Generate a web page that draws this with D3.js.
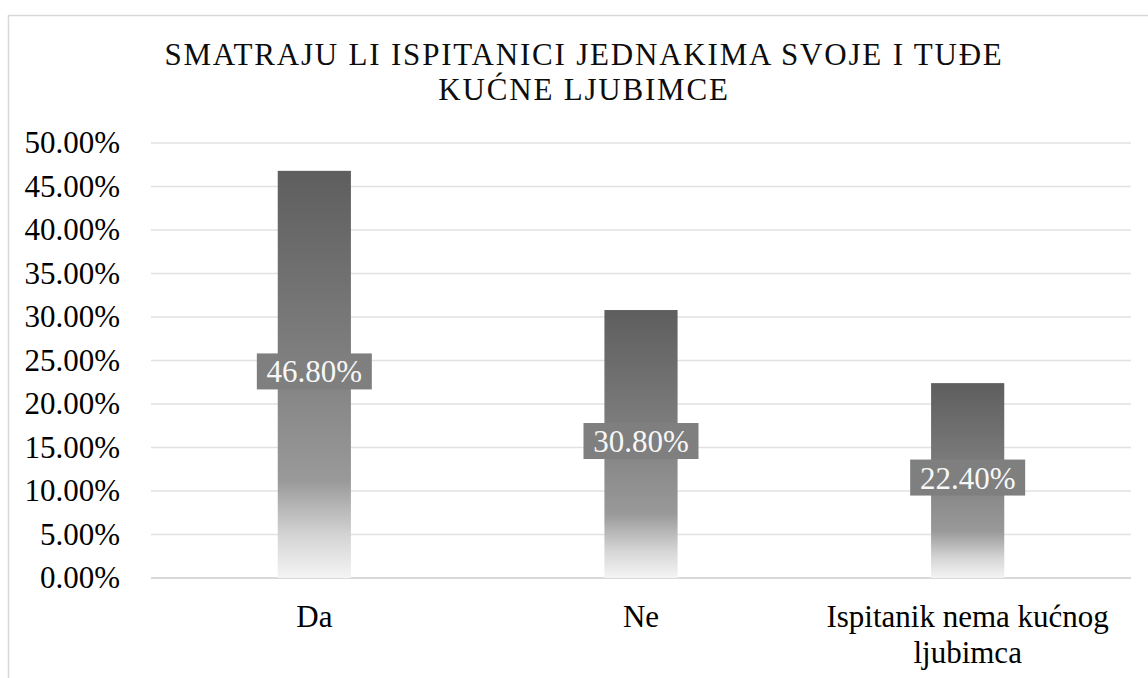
<!DOCTYPE html>
<html>
<head>
<meta charset="utf-8">
<script src="https://cdn.jsdelivr.net/npm/d3@7"></script>
</head>
<body>
<script>
// data
const categories = ['Da', 'Ne', 'Ispitanik nema kućnog ljubimca'];
const categoryLines = [['Da'], ['Ne'], ['Ispitanik nema kućnog', 'ljubimca']];
const values = [0.468, 0.308, 0.224];
const yTicks = [0, 0.05, 0.10, 0.15, 0.20, 0.25, 0.30, 0.35, 0.40, 0.45, 0.50];
const titleLines = ['SMATRAJU LI ISPITANICI JEDNAKIMA SVOJE I TUĐE', 'KUĆNE LJUBIMCE'];

// layout
const svgWidth = 1148;
const svgHeight = 678;
const plot = {left: 151, right: 1131, top: 143, bottom: 578};
const fontName = 'Liberation Serif';
const fontSize = '31px';

d3.select('body').style('margin', '0px');

const svg = d3.select('body')
              .append('svg')
              .attr('width', svgWidth)
              .attr('height', svgHeight)
              .style('display', 'block');

// bar gradient (dark top, fading to white at bottom)
const grad = svg.append('defs')
                .append('linearGradient')
                .attr('id', 'barGrad')
                .attr('x1', 0).attr('y1', 0)
                .attr('x2', 0).attr('y2', 1);
[[0, '#5e5e5e'], [0.45, '#7e7e7e'], [0.76, '#999999'], [0.9, '#d6d6d6'], [1, '#f4f4f4']]
  .forEach(s => grad.append('stop').attr('offset', s[0]).attr('stop-color', s[1]));

// chart border
svg.append('rect')
   .attr('x', 8.5)
   .attr('y', 15.5)
   .attr('width', 1160)
   .attr('height', 700)
   .attr('fill', 'none')
   .attr('stroke', '#d9d9d9')
   .attr('stroke-width', 1.5);

// scales
const xScale = d3.scaleBand()
                 .domain(categories)
                 .range([plot.left, plot.right])
                 .padding(0);

const yScale = d3.scaleLinear()
                 .domain([0, 0.5])
                 .range([plot.bottom, plot.top]);

const barWidth = xScale.bandwidth() * 0.224;
const cx = d => xScale(d) + xScale.bandwidth() / 2;

// gridlines
svg.append('g')
   .selectAll('line')
   .data(yTicks)
   .enter()
   .append('line')
   .attr('x1', plot.left)
   .attr('x2', plot.right)
   .attr('y1', d => yScale(d))
   .attr('y2', d => yScale(d))
   .attr('stroke', d => d === 0 ? '#d9d9d9' : '#e2e2e2')
   .attr('stroke-width', d => d === 0 ? 2 : 1.5);

// y axis labels
const yAxis = d3.axisLeft(yScale)
                .tickValues(yTicks)
                .tickFormat(d => (d * 100).toFixed(2) + '%')
                .tickSize(0)
                .tickPadding(31);
const yg = svg.append('g')
              .attr('transform', 'translate(' + plot.left + ',0)')
              .call(yAxis);
yg.select('.domain').remove();
yg.attr('font-family', fontName).attr('font-size', fontSize);
yg.selectAll('text')
  .attr('font-family', fontName)
  .style('font-family', '"' + fontName + '"')
  .style('font-size', fontSize)
  .attr('fill', '#000');

// bars
svg.append('g')
   .selectAll('rect')
   .data(values)
   .enter()
   .append('rect')
   .attr('x', (d, i) => cx(categories[i]) - barWidth / 2)
   .attr('y', d => yScale(d))
   .attr('width', barWidth)
   .attr('height', d => yScale(0) - yScale(d))
   .attr('fill', 'url(#barGrad)');

// data labels
const labels = svg.append('g')
                  .selectAll('g')
                  .data(values)
                  .enter()
                  .append('g')
                  .attr('transform', (d, i) => 'translate(' + cx(categories[i]) + ',' + ((yScale(d) + yScale(0)) / 2) + ')');
labels.append('rect')
      .attr('x', -57.5)
      .attr('y', -21)
      .attr('width', 115)
      .attr('height', 36)
      .attr('fill', '#7f7f7f');
labels.append('text')
      .attr('text-anchor', 'middle')
      .attr('y', 8)
      .attr('font-family', fontName)
      .style('font-family', '"' + fontName + '"')
      .style('font-size', fontSize)
      .attr('fill', '#f7f7f7')
      .text(d => (d * 100).toFixed(2) + '%');

// category labels
svg.append('g')
   .selectAll('text')
   .data(categories)
   .enter()
   .append('text')
   .attr('text-anchor', 'middle')
   .attr('font-family', fontName)
   .style('font-family', '"' + fontName + '"')
   .style('font-size', fontSize)
   .attr('fill', '#000')
   .each(function(d, i) {
       d3.select(this)
         .selectAll('tspan')
         .data(categoryLines[i])
         .enter()
         .append('tspan')
         .attr('x', cx(d))
         .attr('y', (l, j) => 627 + j * 36)
         .text(l => l);
   });

// title
svg.append('g')
   .selectAll('text')
   .data(titleLines)
   .enter()
   .append('text')
   .attr('x', 584)
   .attr('y', (d, i) => 65 + i * 35)
   .attr('text-anchor', 'middle')
   .attr('font-family', fontName)
   .style('font-family', '"' + fontName + '"')
   .style('font-size', '31px')
   .style('letter-spacing', '1.8px')
   .attr('fill', '#0d0d0d')
   .text(d => d);
</script>
</body>
</html>
